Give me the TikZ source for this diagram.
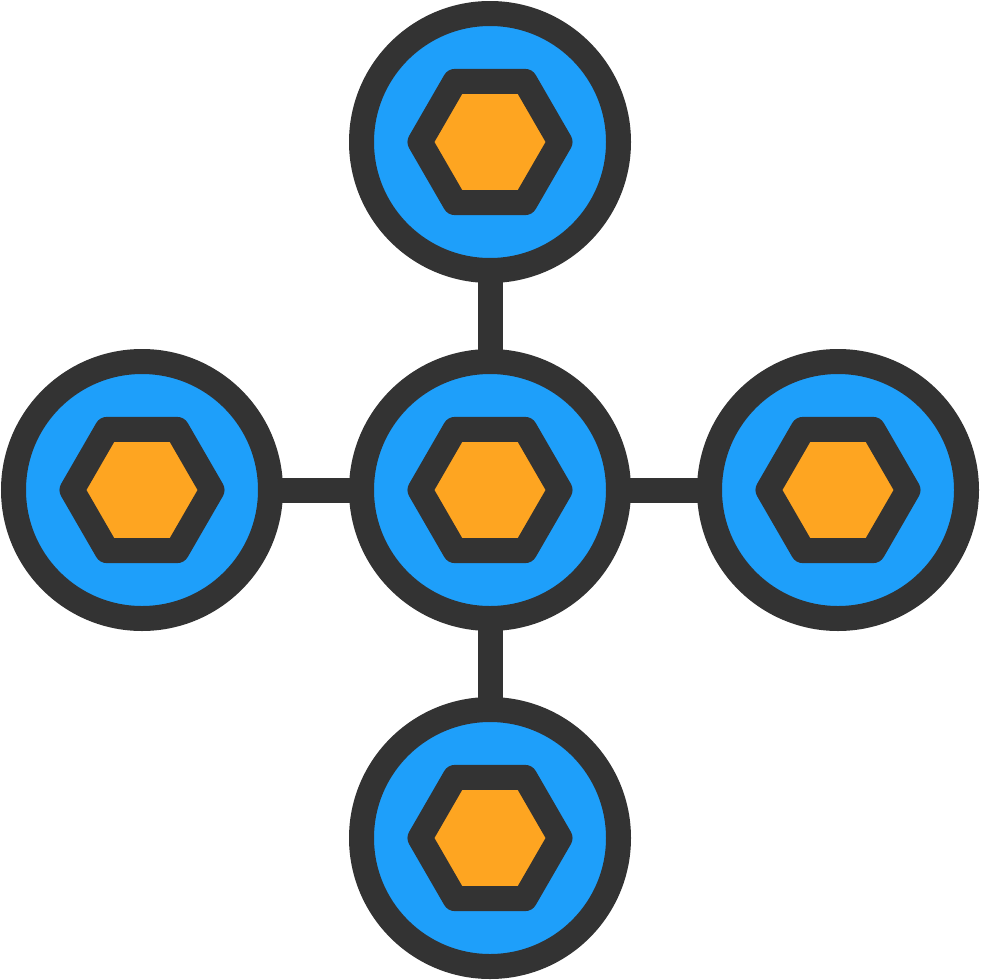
\documentclass[tikz,border=0pt]{standalone}
\usetikzlibrary{shapes.geometric,backgrounds}
\definecolor{darkline}{HTML}{333333}
\definecolor{ringblue}{HTML}{1E9FFA}
\definecolor{hexorange}{HTML}{FEA521}
\begin{document}
\begin{tikzpicture}[x=1pt,y=-1pt,
  hub/.style={circle,draw=darkline,fill=ringblue,line width=25pt,minimum size=257pt,inner sep=0pt},
  hexa/.style={regular polygon,regular polygon sides=6,draw=darkline,fill=hexorange,line width=25pt,line join=round,minimum size=140pt,inner sep=0pt},
  link/.style={draw=darkline,line width=25pt}]
\useasboundingbox (0,0) rectangle (980,980);
\node[hub] (c) at (490,490) {};
\node[hub] (t) at (490,142) {};
\node[hub] (b) at (490,838) {};
\node[hub] (l) at (142,490) {};
\node[hub] (r) at (838,490) {};
\node[hexa] (hc) at (490,490) {};
\node[hexa] (ht) at (490,142) {};
\node[hexa] (hb) at (490,838) {};
\node[hexa] (hl) at (142,490) {};
\node[hexa] (hr) at (838,490) {};
\begin{scope}[on background layer]
\draw[link] (c.center) -- (t.center);
\draw[link] (c.center) -- (b.center);
\draw[link] (c.center) -- (l.center);
\draw[link] (c.center) -- (r.center);
\end{scope}
\end{tikzpicture}
\end{document}
